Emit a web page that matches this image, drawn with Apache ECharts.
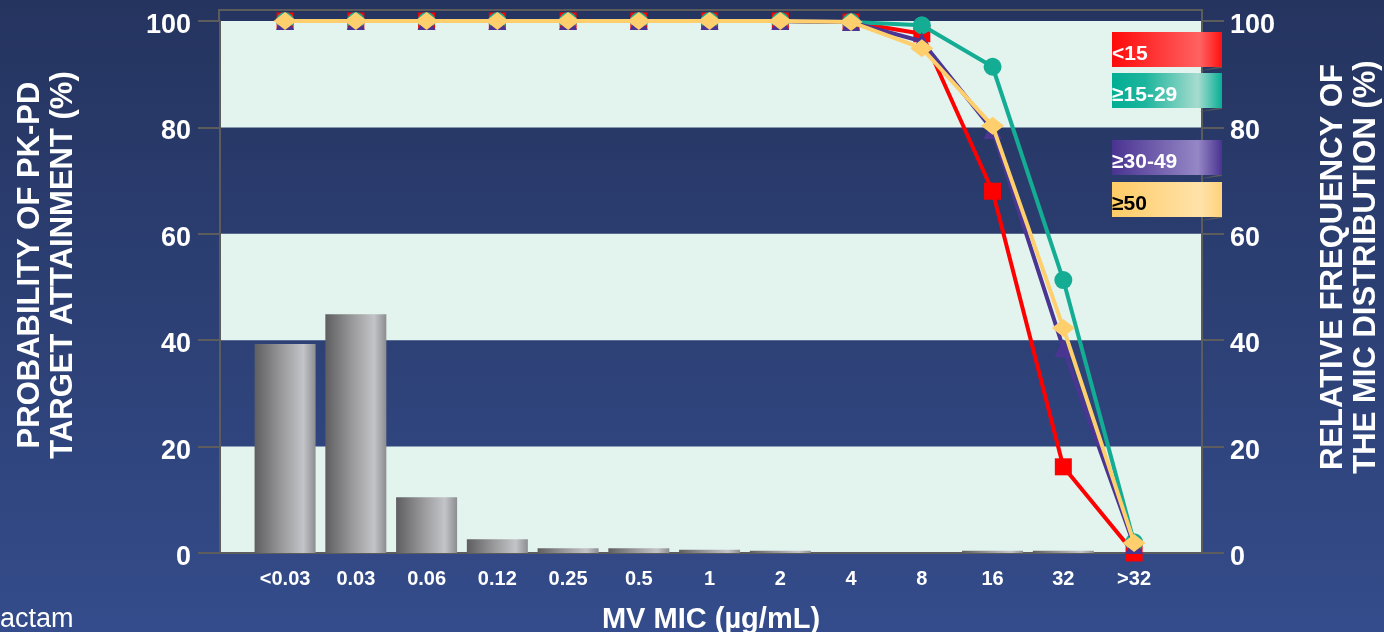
<!DOCTYPE html>
<html><head><meta charset="utf-8">
<script src="https://cdn.jsdelivr.net/npm/echarts@6/dist/echarts.min.js"></script>
<style>html,body{margin:0;padding:0;background:#2c3f75;overflow:hidden}#c{width:1384px;height:632px}</style>
</head><body><div id="c"></div>
<script>
const categories = ['<0.03','0.03','0.06','0.12','0.25','0.5','1','2','4','8','16','32','>32'];
const micFrequency = [39.3,44.9,10.5,2.6,0.9,0.9,0.6,0.4,0,0,0.4,0.4,0];
const ptaLt15    = [100,100,100,100,100,100,100,100,99.8,97.6,68.0,16.2,0];
const pta15to29  = [100,100,100,100,100,100,100,100,99.8,99.2,91.4,51.3,2.0];
const pta30to49  = [100,100,100,100,100,100,100,100,99.8,96.2,79.5,38.5,1.5];
const ptaGe50    = [100,100,100,100,100,100,100,100,99.8,94.9,80.3,42.3,1.9];
const seriesNames = ['<15','≥15-29','≥30-49','≥50'];
const yTicks = [0,20,40,60,80,100];
const xTitle = 'MV MIC (µg/mL)';
const yLeftTitle = 'PROBABILITY OF PK-PD\nTARGET ATTAINMENT (%)';
const yRightTitle = 'RELATIVE FREQUENCY OF\nTHE MIC DISTRIBUTION (%)';
const footText = 'actam';

const FONT = '"Liberation Sans", Arial, sans-serif';
const chart = echarts.init(document.getElementById('c'));
const lg = (stops) => new echarts.graphic.LinearGradient(0,0,1,0, stops.map((c,i)=>({offset:c[0],color:c[1]})));
const pts = arr => arr.map((v,i)=>[i,v]);

const lineDefs = [
  {name: seriesNames[0], data: ptaLt15,   color:'#ff0000', symbol:'rect',     size:17},
  {name: seriesNames[1], data: pta15to29, color:'#14ad94', symbol:'circle',   size:18},
  {name: seriesNames[2], data: pta30to49, color:'#4a3593', symbol:'triangle', size:18},
  {name: seriesNames[3], data: ptaGe50,   color:'#ffcf6e', symbol:'diamond',  size:[23,18]}
];

const legendBoxes = [
  {y:32,  text:seriesNames[0], fg:'#fff', grad:[[0,'#ff0a0a'],[0.8,'#ff6262'],[1,'#ff1010']]},
  {y:73,  text:seriesNames[1], fg:'#fff', grad:[[0,'#00ae94'],[0.3,'#1cb59c'],[0.78,'#a6dccf'],[1,'#07ae95']]},
  {y:140, text:seriesNames[2], fg:'#fff', grad:[[0,'#4a3391'],[0.78,'#9587c6'],[1,'#4a3391']]},
  {y:182, text:seriesNames[3], fg:'#000', grad:[[0,'#ffcc66'],[0.8,'#ffe2aa'],[1,'#ffd27a']]}
];

const graphics = [];
graphics.push({type:'polyline', z:5, shape:{points:[[219,21],[219,10],[1202,10],[1202,21]]}, style:{stroke:'#5c5c5c', lineWidth:2, fill:null}});
legendBoxes.forEach(b=>{
  graphics.push({type:'polygon', z:10, shape:{points:[[1199,b.y+39],[1222,b.y+34],[1222,b.y+36]]}, style:{fill:'#5a5a5a'}});
  graphics.push({type:'rect', z:11, shape:{x:1112,y:b.y,width:110,height:35}, style:{fill:lg(b.grad)}});
  graphics.push({type:'text', z:12, x:1112, y:b.y+22, style:{text:b.text, fill:b.fg, font:'bold 21px '+FONT, verticalAlign:'middle', align:'left'}});
});
graphics.push({type:'text', x:47, y:265, rotation:Math.PI/2, style:{text:yLeftTitle, fill:'#fff', font:'bold 31px '+FONT, align:'center', verticalAlign:'middle', lineHeight:33}});
graphics.push({type:'text', x:1350, y:267, rotation:Math.PI/2, style:{text:yRightTitle, fill:'#fff', font:'bold 31px '+FONT, align:'center', verticalAlign:'middle', lineHeight:33}});
graphics.push({type:'text', x:0, y:620, style:{text:footText, fill:'#fff', font:'27px '+FONT, align:'left', verticalAlign:'middle'}});

const yAxisCommon = {
  type:'value', min:0, max:100, interval:20,
  axisLine:{show:true, onZero:false, lineStyle:{color:'#5c5c5c', width:2}},
  axisTick:{show:true, inside:false, length:22, lineStyle:{color:'#5c5c5c', width:2}},
  splitLine:{show:false},
  axisLabel:{color:'#fff', fontFamily:FONT, fontWeight:'bold', fontSize:27,
    formatter: v => yTicks.includes(v) ? '{n|' + v + '}' : '',
    rich:{n:{color:'#fff', fontFamily:FONT, fontWeight:'bold', fontSize:27, padding:[9,0,0,0]}}}
};

chart.setOption({
  backgroundColor: new echarts.graphic.LinearGradient(0,0,0,1,[{offset:0,color:'#25345f'},{offset:1,color:'#344c8b'}]),
  animation:false,
  grid:{left:220, right:182, top:21, bottom:79, containLabel:false, outerBoundsMode:'none'},
  xAxis:{
    type:'value', min:-0.92, max:12.96,
    axisLine:{show:true, onZero:false, lineStyle:{color:'#5c5c5c', width:2}},
    axisTick:{show:false},
    splitLine:{show:false},
    axisLabel:{customValues:categories.map((c,i)=>i), formatter:v=>categories[Math.round(v)], color:'#fff', fontFamily:FONT, fontWeight:'bold', fontSize:20, margin:16},
    name:xTitle, nameLocation:'middle', nameGap:52,
    nameTextStyle:{color:'#fff', fontFamily:FONT, fontWeight:'bold', fontSize:29}
  },
  yAxis:[
    Object.assign({}, yAxisCommon, {position:'left', axisLabel:Object.assign({}, yAxisCommon.axisLabel, {margin:29}),
      splitArea:{show:true, areaStyle:{color:['#e3f3ee','rgba(0,0,0,0)']}}}),
    Object.assign({}, yAxisCommon, {position:'right', axisLabel:Object.assign({}, yAxisCommon.axisLabel, {margin:28}), splitArea:{show:false}})
  ],
  graphic:graphics,
  series:[
    {type:'bar', yAxisIndex:1, barWidth:61, z:2, data:pts(micFrequency),
     itemStyle:{color:lg([[0,'#5e5e60'],[0.45,'#9a9a9c'],[0.8,'#c3c4c8'],[1,'#8c8d90']])}},
    ...lineDefs.map((d,k)=>({type:'line', name:d.name, yAxisIndex:0, z:3+k, data:pts(d.data),
      lineStyle:{color:d.color, width:4}, itemStyle:{color:d.color},
      symbol:d.symbol, symbolSize:d.size, showSymbol:true, showAllSymbol:true}))
  ]
});
</script></body></html>
